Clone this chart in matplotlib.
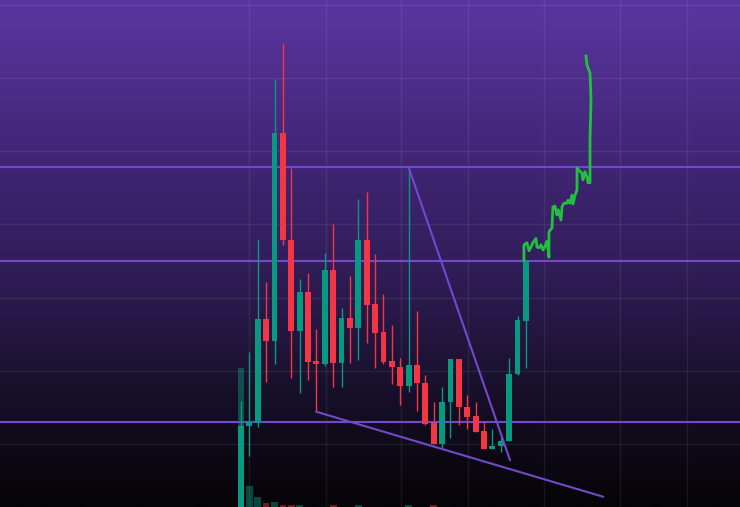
import matplotlib
matplotlib.use("Agg")
import matplotlib.pyplot as plt
import numpy as np
from matplotlib.colors import LinearSegmentedColormap

# candles (index = bar number), prices
opens = [0.96, 2.25, 2.29, 3.71, 3.41, 6.25, 4.79, 3.54, 4.08, 3.13, 3.09, 4.38,
         3.11, 3.72, 3.58, 4.79, 3.91, 3.53, 3.13, 3.05, 2.79, 3.08, 2.83, 2.29,
         2.00, 2.57, 3.16, 2.51, 2.38, 2.18, 1.93, 1.97, 2.04, 2.96, 3.68]
highs = [2.59, 3.26, 4.80, 4.21, 6.99, 7.48, 5.77, 4.25, 4.34, 3.57, 4.61, 5.01,
         3.86, 4.30, 5.35, 5.44, 4.60, 4.05, 3.63, 3.17, 5.78, 3.82, 2.94, 2.57,
         2.78, 3.16, 3.16, 2.67, 2.57, 2.30, 2.20, 2.10, 3.17, 3.75, 4.52]
lows = [0.90, 1.84, 2.23, 2.85, 3.09, 4.72, 2.90, 2.70, 2.87, 2.44, 3.07, 2.78,
        2.78, 3.11, 3.15, 3.38, 3.04, 3.09, 2.82, 2.53, 2.71, 2.45, 2.26, 2.00,
        1.95, 2.08, 2.26, 2.20, 2.16, 1.93, 1.93, 1.89, 2.04, 2.94, 3.04]
closes = [2.25, 2.30, 3.71, 3.41, 6.25, 4.79, 3.54, 4.08, 3.12, 3.09, 4.38, 3.11,
          3.72, 3.58, 4.79, 3.90, 3.52, 3.12, 3.05, 2.79, 3.08, 2.83, 2.27, 2.00,
          2.57, 3.16, 2.51, 2.37, 2.16, 1.93, 1.97, 2.04, 2.96, 3.69, 4.51]
volumes = [1390, 210, 100, 40, 50, 20, 20, 20, 4, 4, 4, 20, 4, 4, 20, 4, 4, 4,
           4, 4, 20, 4, 4, 20, 4, 4, 4, 4, 4, 4, 4, 4, 4, 4, 4]

# horizontal levels
levels = [5.78, 4.50, 2.30]

# trendlines (bar index, price)
upper_trend_x = [20.0, 32.1]
upper_trend_y = [5.78, 1.78]
lower_trend_x = [9.0, 43.2]
lower_trend_y = [2.44, 1.28]

# projected path
proj_x = [33.77, 33.77, 34.13, 34.37, 34.61, 34.84, 35.20, 35.32, 35.56, 35.80,
          36.04, 36.28, 36.52, 36.75, 36.75, 37.11, 37.23, 37.47, 37.71, 37.83,
          38.19, 38.31, 38.54, 38.90, 39.02, 39.26, 39.50, 39.62, 39.86, 40.10,
          40.10, 40.33, 40.69, 40.81, 41.05, 41.29, 41.41, 41.65, 41.65, 41.77,
          41.65, 41.41, 41.29, 41.17]
proj_y = [4.51, 4.72, 4.75, 4.64, 4.69, 4.75, 4.81, 4.69, 4.68, 4.72,
          4.65, 4.70, 4.77, 4.55, 4.90, 4.95, 5.24, 5.25, 5.13, 5.20,
          5.06, 5.24, 5.29, 5.29, 5.33, 5.29, 5.40, 5.28, 5.40, 5.47,
          5.77, 5.74, 5.70, 5.61, 5.72, 5.65, 5.57, 5.57, 6.15, 6.70,
          7.07, 7.14, 7.18, 7.30]

grid_x = [1.0, 10.1, 19.1, 27.1, 36.2, 45.2, 53.2]
grid_y = [2, 3, 4, 5, 6, 7, 8]

up_col = "#089981"
down_col = "#f23645"
level_col = "#7348cc"

fig = plt.figure(figsize=(7.4, 5.07), dpi=100)

# background gradient
bg = fig.add_axes([0, 0, 1, 1])
cmap = LinearSegmentedColormap.from_list(
    "bg", [(0.0, "#5b35a1"), (0.33, "#3f2573"), (0.52, "#311e5a"),
           (0.73, "#1c1232"), (0.88, "#0e0a17"), (1.0, "#050407")])
bg.imshow(np.linspace(0, 1, 256).reshape(-1, 1), aspect="auto", cmap=cmap,
          extent=[0, 1, 0, 1])
bg.axis("off")

xlim = (-28.76, 59.55)

# volume
vax = fig.add_axes([0, 0, 1, 1])
vax.patch.set_visible(False)
vcols = [up_col if c >= o else down_col for o, c in zip(opens, closes)]
vax.bar(range(len(volumes)), volumes, width=0.8, color=vcols, alpha=0.45)
vax.set_xlim(*xlim)
vax.set_ylim(0, 5070)
vax.axis("off")

# price
ax = fig.add_axes([0, 0, 1, 1])
ax.patch.set_visible(False)
ax.set_xlim(*xlim)
ax.set_ylim(1.139, 8.066)
ax.set_xticks(grid_x)
ax.set_yticks(grid_y)
ax.grid(True, color="white", alpha=0.07, linewidth=1)
ax.tick_params(length=0, labelbottom=False, labelleft=False)
for s in ax.spines.values():
    s.set_visible(False)

for lv in levels:
    ax.axhline(lv, color=level_col, linewidth=1.5, zorder=2)

for i in range(len(opens)):
    col = up_col if closes[i] >= opens[i] else down_col
    ax.vlines(i, lows[i], highs[i], color=col, linewidth=1, zorder=3)
    body = closes[i] - opens[i]
    if abs(body) < 0.04:
        body = 0.04 if body >= 0 else -0.04
    ax.bar(i, body, bottom=opens[i], width=0.7, color=col, zorder=4)

ax.plot(upper_trend_x, upper_trend_y, color=level_col, linewidth=1.5, zorder=5)
ax.plot(lower_trend_x, lower_trend_y, color=level_col, linewidth=1.5, zorder=5)

ax.plot(proj_x, proj_y, color="#21c140", linewidth=2, zorder=6,
        solid_joinstyle="round")

fig.savefig("out.png", dpi=100)
